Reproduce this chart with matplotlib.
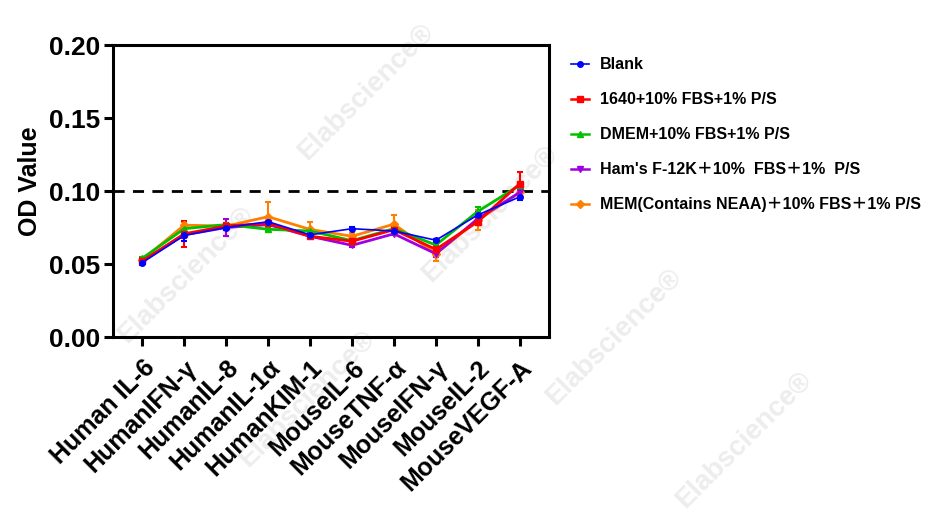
import numpy as np
import matplotlib
matplotlib.use("Agg")
import matplotlib.pyplot as plt
from matplotlib.lines import Line2D

plt.rcParams['font.family'] = ['Liberation Sans', 'Noto Sans CJK SC', 'DejaVu Sans']
plt.rcParams['font.weight'] = 'bold'

targets = ["Human IL-6", "HumanIFN-γ", "HumanIL-8", "HumanIL-1α", "HumanKIM-1",
           "MouseIL-6", "MouseTNF-α", "MouseIFN-γ", "MouseIL-2", "MouseVEGF-A"]

blank = [0.051, 0.0696, 0.075, 0.079, 0.070, 0.0742, 0.0726, 0.0663, 0.0836, 0.096]
blank_err = [0.002, 0.004, 0.002, 0.003, 0.002, 0.001, 0.001, 0.001, 0.002, 0.002]
rpmi = [0.052, 0.0707, 0.076, 0.0778, 0.069, 0.0656, 0.0735, 0.060, 0.079, 0.105]
rpmi_err = [0.002, 0.009, 0.002, 0.002, 0.001, 0.002, 0.002, 0.003, 0.002, 0.008]
dmem = [0.054, 0.0742, 0.077, 0.0738, 0.0726, 0.066, 0.0742, 0.063, 0.086, 0.104]
dmem_err = [0.001, 0.002, 0.001, 0.001, 0.001, 0.001, 0.002, 0.001, 0.003, 0.002]
hams = [0.052, 0.070, 0.075, 0.077, 0.069, 0.0628, 0.0707, 0.057, 0.081, 0.099]
hams_err = [0.001, 0.002, 0.006, 0.001, 0.001, 0.001, 0.001, 0.002, 0.002, 0.002]
mem = [0.053, 0.0766, 0.076, 0.0824, 0.0737, 0.069, 0.0773, 0.057, 0.080, 0.099]
mem_err = [0.001, 0.002, 0.002, 0.010, 0.005, 0.002, 0.006, 0.005, 0.007, 0.003]

series = [
    ("Blank", blank, blank_err, "#0000ff", "o", 1.2),
    ("1640+10% FBS+1% P/S", rpmi, rpmi_err, "#ff0000", "s", 2.0),
    ("DMEM+10% FBS+1% P/S", dmem, dmem_err, "#00c000", "^", 2.0),
    ("Ham's F-12K\uff0b10%  FBS\uff0b1%  P/S", hams, hams_err, "#a000e0", "v", 2.0),
    ("MEM(Contains NEAA)\uff0b10% FBS\uff0b1% P/S", mem, mem_err, "#ff8000", "D", 2.0),
]

fig = plt.figure(figsize=(9.45, 5.32), dpi=100)

# faint watermark behind everything (centres in pixels from top-left)
wm = [(366, 92), (490, 214), (614, 337), (744, 440), (186, 275), (307, 399)]
for (px, py) in wm:
    fig.text(px / 945, 1 - py / 532, "Elabscience\u00ae", fontsize=20, color="#ededed",
             rotation=45, ha="center", va="center", fontweight="bold", zorder=-5)

ax = fig.add_axes([0.1196, 0.3665, 0.4614, 0.5489])
ax.patch.set_alpha(0)

x = np.arange(len(targets))
# back to front: orange, purple, green, red, blue on top
for name, vals, err, col, mk, lw in series[::-1]:
    ax.errorbar(x, vals, yerr=err, color=col, marker=mk, markersize=4, lw=lw,
                elinewidth=1.5, capsize=2.5, capthick=1.5)

ax.axhline(0.10, color="black", ls=(0, (4, 3)), lw=2)

ax.set_xlim(-0.7, 9.7)
ax.set_ylim(0, 0.20)
ax.set_yticks([0.00, 0.05, 0.10, 0.15, 0.20])
ax.set_yticklabels(["0.00", "0.05", "0.10", "0.15", "0.20"], fontsize=19, fontweight="bold")
ax.set_xticks(x)
ax.set_xticklabels(targets, rotation=45, ha="right", rotation_mode="anchor",
                   fontsize=18, fontweight="bold")
ax.set_ylabel("OD Value", fontsize=18, fontweight="bold")
ax.yaxis.set_label_coords(-0.163, 0.534)
for s in ax.spines.values():
    s.set_linewidth(2.2)
ax.tick_params(axis="both", width=2.2, length=6.5, direction="out")
ax.tick_params(axis="y", pad=2.5)
ax.tick_params(axis="x", pad=7)

handles = [Line2D([], [], color=col, marker=mk, markersize=4, lw=(1.2 if i == 0 else 1.8))
           for i, (name, vals, err, col, mk, lw) in enumerate(series)]
labels = [s[0] for s in series]
fig.legend(handles, labels, loc="upper left", bbox_to_anchor=(565 / 945, 1 - 51 / 532),
           frameon=False, handlelength=1.1, handletextpad=0.7, labelspacing=1.25,
           borderaxespad=0, prop={"weight": "bold", "size": 11.5})

fig.savefig("out.png", dpi=100)
